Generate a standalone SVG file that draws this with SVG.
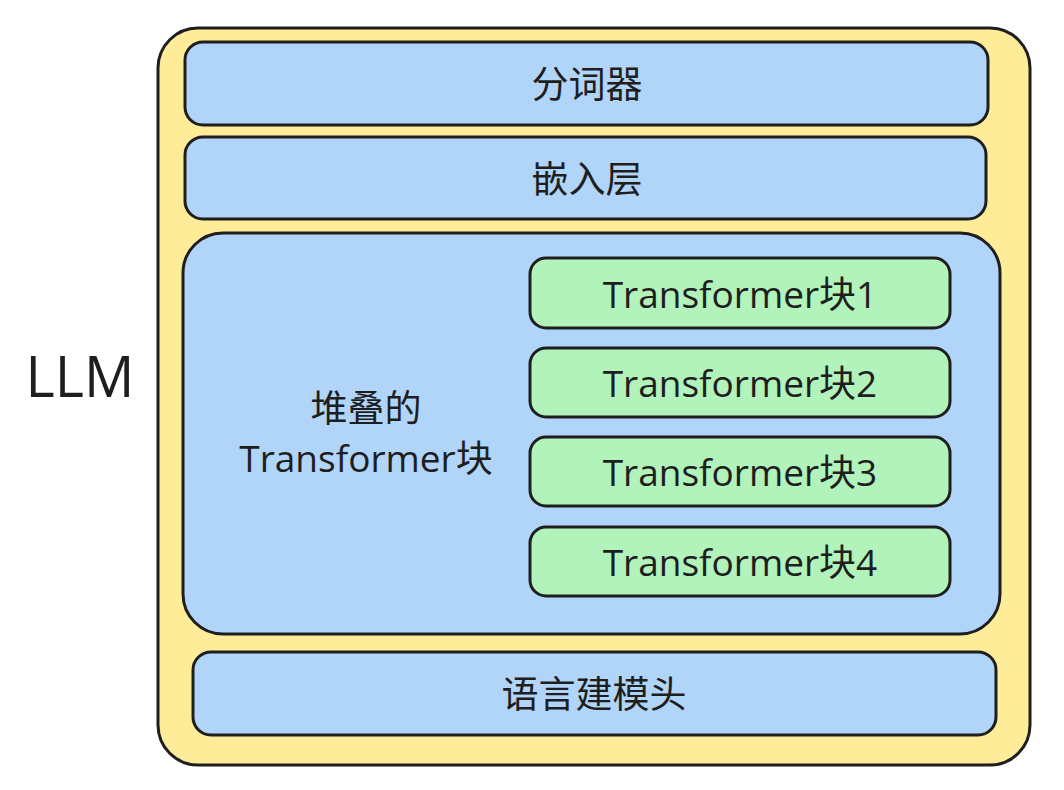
<svg xmlns="http://www.w3.org/2000/svg" width="1064" height="790" viewBox="0 0 1064 790">
<style>
.b{stroke:#1e1e1e;stroke-width:3;stroke-linejoin:round}
.blue{fill:#b1d5f9}
.green{fill:#b2f2bb}
text{font-family:"Open Sans","Noto Sans CJK SC",sans-serif;fill:#1e1e1e;text-anchor:middle;dominant-baseline:central}
.t{font-size:37px}
</style>
<rect width="1064" height="790" fill="#fff"/>
<g id="llm">
<rect class="b" x="158" y="28" width="872" height="737" rx="40" fill="#ffec99"/>
</g>
<text x="80" y="375" style="font-size:56px">LLM</text>
<g id="tokenizer"><rect class="b blue" x="185" y="42" width="803" height="83" rx="18"/><text class="t" x="587" y="83">分词器</text></g>
<g id="embedding"><rect class="b blue" x="185" y="137" width="801" height="82" rx="18"/><text class="t" x="587" y="178">嵌入层</text></g>
<g id="stacked"><rect class="b blue" x="183" y="233" width="817" height="401" rx="40"/><text class="t" x="366" y="407">堆叠的</text><text class="t" x="366" y="457">Transformer块</text></g>
<g id="block1"><rect class="b green" x="530" y="258" width="420" height="70" rx="16"/><text class="t" x="740" y="293">Transformer块1</text></g>
<g id="block2"><rect class="b green" x="530" y="348" width="420" height="69" rx="16"/><text class="t" x="740" y="382">Transformer块2</text></g>
<g id="block3"><rect class="b green" x="530" y="437" width="420" height="69" rx="16"/><text class="t" x="740" y="471">Transformer块3</text></g>
<g id="block4"><rect class="b green" x="530" y="527" width="420" height="69" rx="16"/><text class="t" x="740" y="561">Transformer块4</text></g>
<g id="head"><rect class="b blue" x="193" y="652" width="803" height="83" rx="18"/><text class="t" x="594" y="693">语言建模头</text></g>
<g id="connectors"></g>
</svg>
